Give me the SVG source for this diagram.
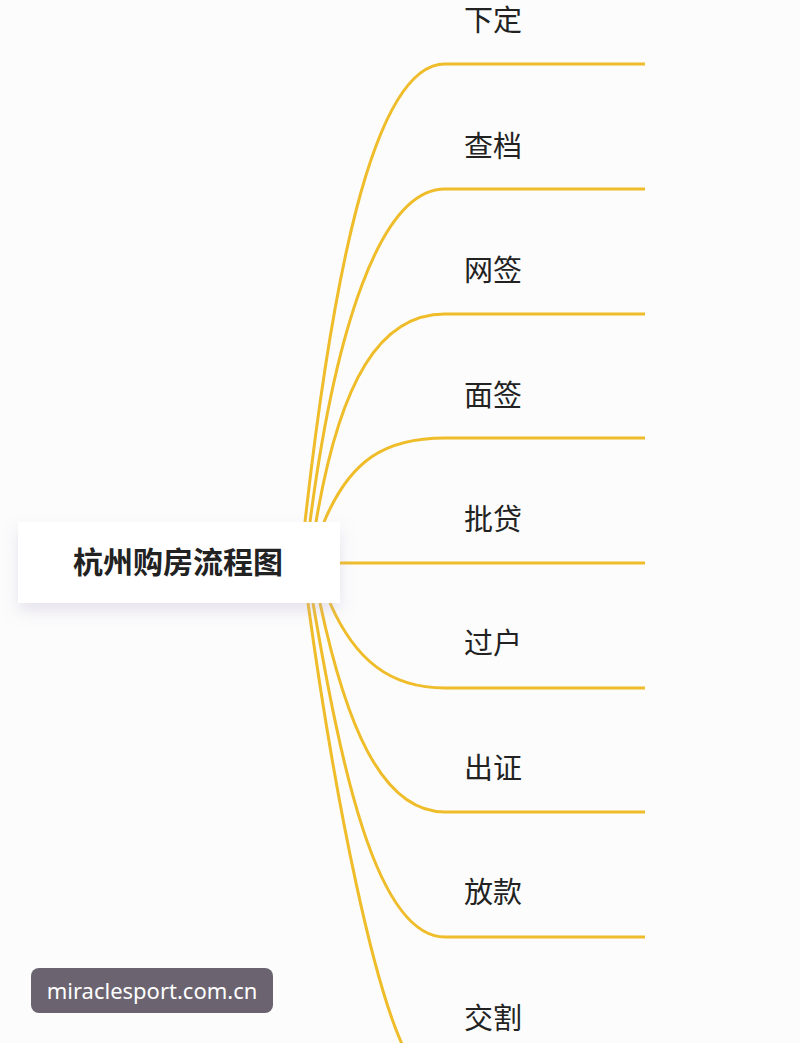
<svg xmlns="http://www.w3.org/2000/svg" width="800" height="1043" viewBox="0 0 800 1043">
<defs>
<style>
.c{fill:none;stroke:#EFBC2A;stroke-width:3}
.t{font-family:"Noto Sans CJK SC",sans-serif;font-size:29px;fill:#222}
</style>
<filter id="sh" x="-20%" y="-30%" width="140%" height="180%"><feDropShadow dx="0" dy="8" stdDeviation="8" flood-color="#b0a8c8" flood-opacity="0.3"/></filter>
</defs>
<rect width="800" height="1043" fill="#fcfcfc"/>
<g id="connectors">
<path class="c" d="M305 522 C330 300 370 64 445 64 L645 64"/>
<path class="c" d="M310 522 C335 330 380 189 445 189 L645 189"/>
<path class="c" d="M316 522 C340 380 380 314 445 314 L645 314"/>
<path class="c" d="M324 522 C350 460 385 438 445 438 L645 438"/>
<path class="c" d="M340 563 L645 563"/>
<path class="c" d="M330 603 C355 660 390 688 445 688 L645 688"/>
<path class="c" d="M320 603 C345 720 380 812 445 812 L645 812"/>
<path class="c" d="M313 603 C340 760 375 937 445 937 L645 937"/>
<path class="c" d="M308 603 C335 800 375 1000 410 1060"/>
</g>
<g id="root"><rect x="18" y="522" width="322" height="81" fill="#fff" filter="url(#sh)"/>
<text x="178" y="573" text-anchor="middle" style="font-family:'Noto Sans CJK SC',sans-serif;font-size:30px;font-weight:bold;fill:#222">杭州购房流程图</text></g>
<g id="n1"><text class="t" x="464" y="31">下定</text></g>
<g id="n2"><text class="t" x="464" y="157">查档</text></g>
<g id="n3"><text class="t" x="464" y="281">网签</text></g>
<g id="n4"><text class="t" x="464" y="406">面签</text></g>
<g id="n5"><text class="t" x="464" y="530">批贷</text></g>
<g id="n6"><text class="t" x="464" y="654">过户</text></g>
<g id="n7"><text class="t" x="464" y="779">出证</text></g>
<g id="n8"><text class="t" x="464" y="903">放款</text></g>
<g id="n9"><text class="t" x="464" y="1029">交割</text></g>
<g id="wm"><rect x="31" y="968" width="242" height="45" rx="8" fill="#6b6470"/>
<text x="152" y="999" text-anchor="middle" style="font-family:'Noto Sans',sans-serif;font-size:22px;fill:#fff">miraclesport.com.cn</text></g>
</svg>
